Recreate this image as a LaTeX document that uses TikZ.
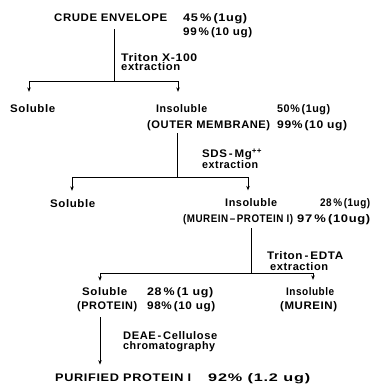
\documentclass[tikz,border=0pt]{standalone}
\usepackage{fontspec}
\usepackage{graphicx}
\setmainfont{Liberation Sans}[LetterSpace=5]
\usetikzlibrary{arrows.meta}
\newcommand\fw[2]{\resizebox{#1pt}{\height}{#2}}
\tikzset{
  txt/.style={inner sep=0pt, anchor=base west, font=\bfseries\fontsize{11}{12}\selectfont},
  ln/.style={line width=0.9pt, black},
  arr/.style={ln, -{Stealth[length=4.5pt,width=3.5pt]}}
}
\begin{document}
\begin{tikzpicture}[x=1pt,y=-1pt]
\useasboundingbox (0,0) rectangle (391,384);
% texts
\node[txt] (crude) at (54,21) {\fw{113}{CRUDE ENVELOPE}};
\node[txt] (pctA1) at (183,21) {\fw{64}{45\,\%\,(1ug)}};
\node[txt] (pctA2) at (183,35) {\fw{69}{99\,\%\,(10 ug)}};
\node[txt] (trita) at (121,61) {\fw{76}{Triton X-100}};
\node[txt] (tritb) at (121,70.5) {\fw{59}{extraction}};
\node[txt] (sol1) at (10,112) {\fw{45}{Soluble}};
\node[txt] (ins1) at (156,112) {\fw{51}{Insoluble}};
\node[txt] (outer) at (147,128) {\fw{123}{(OUTER MEMBRANE)}};
\node[txt] (pctB1) at (277,112) {\fw{53}{50\%\,(1ug)}};
\node[txt] (pctB2) at (277,128) {\fw{70}{99\%\,(10 ug)}};
\node[txt] (sdsa) at (202,157) {\fw{60}{SDS\,-\,Mg\textsuperscript{++}}};
\node[txt] (sdsb) at (202,168) {\fw{56}{extraction}};
\node[txt] (sol2) at (50,207) {\fw{45}{Soluble}};
\node[txt] (ins2) at (225,206) {\fw{52}{Insoluble}};
\node[txt] (pctC1) at (320,206) {\fw{50}{28\,\%\,(1ug)}};
\node[txt] (mp) at (183,222) {\fw{110}{(MUREIN\,–\,PROTEIN I)}};
\node[txt] (pctC2) at (297,222) {\fw{73}{97\,\%\,(10ug)}};
\node[txt] (edtaa) at (267,259) {\fw{76}{Triton\,-\,EDTA}};
\node[txt] (edtab) at (270,270) {\fw{58}{extraction}};
\node[txt] (sol3) at (82,295) {\fw{45}{Soluble}};
\node[txt] (pctD1) at (147,295) {\fw{66}{28\,\%\,(1 ug)}};
\node[txt] (ins3) at (286,295) {\fw{48}{Insoluble}};
\node[txt] (prot) at (77,309) {\fw{60}{(PROTEIN)}};
\node[txt] (pctD2) at (147,309) {\fw{68}{98\%\,(10 ug)}};
\node[txt] (mur) at (280,309) {\fw{57}{(MUREIN)}};
\node[txt] (deaea) at (123,339) {\fw{94}{DEAE\,-\,Cellulose}};
\node[txt] (deaeb) at (123,349) {\fw{92}{chromatography}};
\node[txt] (final) at (55,381) {\fw{136}{PURIFIED PROTEIN I}};
\node[txt] (finalpct) at (208,381) {\fw{102}{92\% (1.2 ug)}};
% junctions
\coordinate (j1) at (114,81);
\coordinate (j2) at (177,177);
\coordinate (j3) at (251,273);
% connectors
\draw[ln] (j1 |- crude.south) ++(0,8) -- (j1);
\draw[arr] (j1) -| ([xshift=19pt,yshift=12pt]sol1.north west);
\draw[arr] (j1) -| ([xshift=22pt,yshift=12pt]ins1.north west);
\draw[ln] (j2 |- outer.south) ++(0,3) -- (j2);
\draw[arr] (j2) -| ([xshift=22pt,yshift=8pt]sol2.north west);
\draw[arr] (j2) -| ([xshift=23pt,yshift=7.5pt]ins2.north west);
\draw[ln] (j3 |- mp.south) ++(0,4) -- (j3);
\draw[arr] (j3) -| ([xshift=18pt,yshift=6pt]sol3.north west);
\draw[arr] (j3) -| ([xshift=27pt,yshift=7pt]ins3.north west);
\draw[arr] ([xshift=23pt,yshift=-6pt]prot.south west) -- ([xshift=45pt,yshift=8.5pt]final.north west);
\end{tikzpicture}
\end{document}
